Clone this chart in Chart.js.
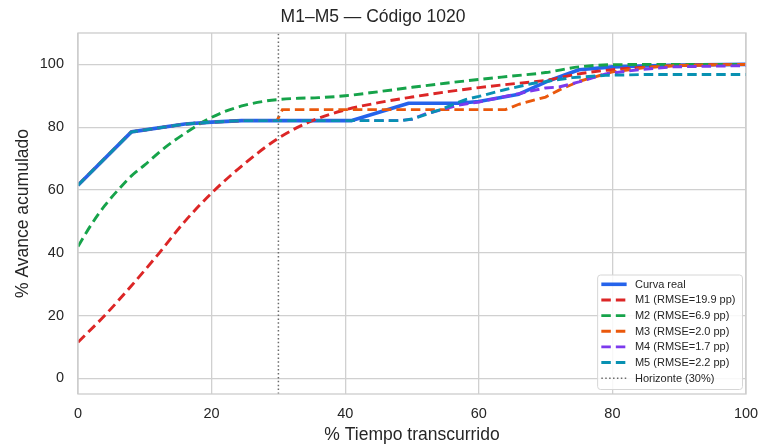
<!DOCTYPE html>
<html>
<head>
<meta charset="utf-8">
<script src="https://cdn.jsdelivr.net/npm/chart.js@4.4.1/dist/chart.umd.min.js"></script>
<style>
  html, body { margin: 0; padding: 0; background: #ffffff; }
  #wrap { width: 761px; height: 446px; position: relative; }
</style>
</head>
<body>
<div id="wrap"><canvas id="grafico"></canvas></div>
<script>
// Curva real de avance (x = % tiempo, y = % avance)
const tiempoReal = [0, 8, 16, 20, 24.5, 30, 41, 49.5, 57, 60, 66, 70.5, 75, 80, 90, 100];
const avanceReal = [61.5, 78.5, 81, 81.6, 82.1, 82.1, 82.1, 87.6, 87.6, 88.2, 90.5, 94.8, 98.3, 99.2, 99.8, 100];

// M1
const tiempoM1 = [0, 4, 8, 12, 16, 20, 25, 30, 35, 40, 45, 50, 55, 60, 65, 70, 75, 80, 85, 90, 95, 100];
const avanceM1 = [11.5, 20, 29.5, 39.5, 50, 59, 68.5, 76.5, 82, 85.5, 87.8, 89.6, 91.2, 92.6, 93.8, 94.9, 97, 98.3, 99.1, 99.6, 99.9, 100];

// M2
const tiempoM2 = [0, 2, 4, 6, 8, 10, 13, 16, 19, 22, 25, 28, 30, 33, 36, 40, 45, 50, 55, 60, 65, 70, 75, 80, 90, 100];
const avanceM2 = [42, 49, 55, 60, 64.5, 68, 73.5, 78, 82, 85, 87, 88.3, 88.8, 89.2, 89.4, 90, 91.3, 92.7, 94, 95.2, 96.3, 97.4, 99.2, 99.9, 100, 100];

// M3
const tiempoM3 = [0, 8, 16, 20, 24.5, 29.8, 30.6, 40, 50, 60, 64, 66, 70, 72, 75, 80, 85, 90, 100];
const avanceM3 = [61.5, 78.5, 81, 81.6, 82.1, 82.1, 85.6, 85.6, 85.6, 85.6, 85.6, 87.3, 89.6, 91.8, 94.6, 97.6, 99, 99.7, 100];

// M4
const tiempoM4 = [0, 8, 16, 20, 24.5, 30, 48, 50, 52, 57, 60, 66, 70, 72, 75, 79, 84, 89, 100];
const avanceM4 = [61.5, 78.5, 81, 81.6, 82.1, 82.1, 82.1, 82.5, 84.2, 87, 88, 90.7, 92.5, 92.8, 94.4, 97, 98.3, 99.2, 99.6];

// M5
const tiempoM5 = [0, 8, 16, 20, 24.5, 30, 48.5, 50, 54, 58, 60, 64, 68, 70, 74, 79, 85, 100];
const avanceM5 = [61.5, 78.5, 81, 81.6, 82.1, 82.1, 82.1, 82.6, 85.4, 88.8, 89.8, 92, 93.9, 94.5, 95.8, 96.5, 96.8, 96.8];

// Horizonte de corte
const horizonte = 30;

const etiquetas = [
  'Curva real',
  'M1 (RMSE=19.9 pp)',
  'M2 (RMSE=6.9 pp)',
  'M3 (RMSE=2.0 pp)',
  'M4 (RMSE=1.7 pp)',
  'M5 (RMSE=2.2 pp)',
  'Horizonte (30%)'
];
const ticksX = [0, 20, 40, 60, 80, 100];
const ticksY = [0, 20, 40, 60, 80, 100];

const FUENTE = "'Liberation Sans', Arial, sans-serif";
const TEXTO = '#262626';
const REJILLA = '#d0d0d0';

const puntos = (xs, ys) => xs.map((x, i) => ({ x: x, y: ys[i] }));
const DASH = [9.5, 5];

const serie = (label, xs, ys, color, orden, extra) => Object.assign({
  label: label,
  data: puntos(xs, ys),
  borderColor: color,
  backgroundColor: color,
  borderWidth: 2.9,
  borderDash: DASH,
  pointRadius: 0,
  pointHoverRadius: 0,
  fill: false,
  tension: 0,
  order: orden
}, extra || {});

const datasets = [
  serie(etiquetas[0], tiempoReal, avanceReal, '#2563eb', 6, { borderDash: [], borderWidth: 3.6, borderJoinStyle: 'round' }),
  serie(etiquetas[1], tiempoM1, avanceM1, '#dc2626', 5, { cubicInterpolationMode: 'monotone' }),
  serie(etiquetas[2], tiempoM2, avanceM2, '#16a34a', 4, { cubicInterpolationMode: 'monotone' }),
  serie(etiquetas[3], tiempoM3, avanceM3, '#ea580c', 3),
  serie(etiquetas[4], tiempoM4, avanceM4, '#7c3aed', 2),
  serie(etiquetas[5], tiempoM5, avanceM5, '#0891b2', 1),
  serie(etiquetas[6], [horizonte, horizonte], [-5, 110], '#6b6b6b', 0, { borderWidth: 1.5, borderDash: [1.5, 2.4] })
];

// Marco del área de trazado y leyenda en la esquina inferior derecha
const marcoYLeyenda = {
  id: 'marcoYLeyenda',
  afterDatasetsDraw(chart) {
    const { ctx, chartArea: a } = chart;
    ctx.save();
    ctx.strokeStyle = '#cccccc';
    ctx.lineWidth = 1.3;
    ctx.setLineDash([]);
    ctx.strokeRect(a.left, a.top, a.right - a.left, a.bottom - a.top);

    // Leyenda
    const ds = chart.data.datasets;
    ctx.font = '11px ' + FUENTE;
    const anchoTexto = Math.max(...ds.map(d => ctx.measureText(d.label).width));
    const padL = 3.7, muestra = 25.3, hueco = 8.3, padR = 7;
    const w = padL + muestra + hueco + anchoTexto + padR;
    const filaH = 15.65;
    const h = 114.5;
    const derecha = a.right - 3.5;
    const abajo = a.bottom - 4.5;
    const izq = derecha - w;
    const arriba = abajo - h;

    ctx.beginPath();
    ctx.roundRect(izq, arriba, w, h, 3);
    ctx.fillStyle = 'rgba(255,255,255,0.85)';
    ctx.fill();
    ctx.strokeStyle = '#d6d6d6';
    ctx.lineWidth = 1;
    ctx.stroke();

    ds.forEach((d, i) => {
      const yc = arriba + 9.3 + i * filaH;
      ctx.beginPath();
      ctx.strokeStyle = d.borderColor;
      ctx.lineWidth = d.borderWidth;
      ctx.setLineDash(d.borderDash || []);
      ctx.lineCap = 'butt';
      ctx.moveTo(izq + padL, yc);
      ctx.lineTo(izq + padL + muestra, yc);
      ctx.stroke();
      ctx.setLineDash([]);
      ctx.fillStyle = TEXTO;
      ctx.textAlign = 'left';
      ctx.textBaseline = 'middle';
      ctx.fillText(d.label, izq + padL + muestra + hueco, yc + 0.5);
    });
    ctx.restore();
  }
};

new Chart(document.getElementById('grafico'), {
  type: 'line',
  data: { datasets: datasets },
  plugins: [marcoYLeyenda],
  options: {
    responsive: true,
    maintainAspectRatio: false,
    devicePixelRatio: 1,
    animation: false,
    layout: { padding: { left: 0, right: 15, top: 0, bottom: 0 } },
    plugins: {
      legend: { display: false },
      tooltip: { enabled: false },
      title: {
        display: true,
        text: 'M1–M5 — Código 1020',
        color: TEXTO,
        font: { family: FUENTE, size: 17.5, weight: 'normal' },
        padding: { top: 6.5, bottom: 5.5 }
      }
    },
    scales: {
      x: {
        type: 'linear',
        min: 0,
        max: 100,
        afterBuildTicks: s => { s.ticks = ticksX.map(v => ({ value: v })); },
        afterFit: s => { s.height = 52; s.paddingLeft = 0; s.paddingRight = 0; },
        grid: { color: REJILLA, lineWidth: 1.3, drawTicks: false },
        border: { display: false },
        ticks: { color: TEXTO, font: { family: FUENTE, size: 14.5 }, padding: 11.5, maxRotation: 0 },
        title: {
          display: true,
          text: '% Tiempo transcurrido',
          color: TEXTO,
          font: { family: FUENTE, size: 17.5 },
          padding: { top: 0, bottom: 0.5 }
        }
      },
      y: {
        type: 'linear',
        min: -5,
        max: 110,
        afterBuildTicks: s => { s.ticks = ticksY.map(v => ({ value: v })); },
        afterFit: s => { s.width = 78; s.paddingTop = 0; s.paddingBottom = 0; },
        grid: { color: REJILLA, lineWidth: 1.3, drawTicks: false },
        border: { display: false },
        ticks: { color: TEXTO, font: { family: FUENTE, size: 14.5 }, padding: 14 },
        title: {
          display: true,
          text: '% Avance acumulado',
          color: TEXTO,
          font: { family: FUENTE, size: 17.5 },
          padding: { top: 12.5, bottom: 0 }
        }
      }
    }
  }
});
</script>
</body>
</html>
